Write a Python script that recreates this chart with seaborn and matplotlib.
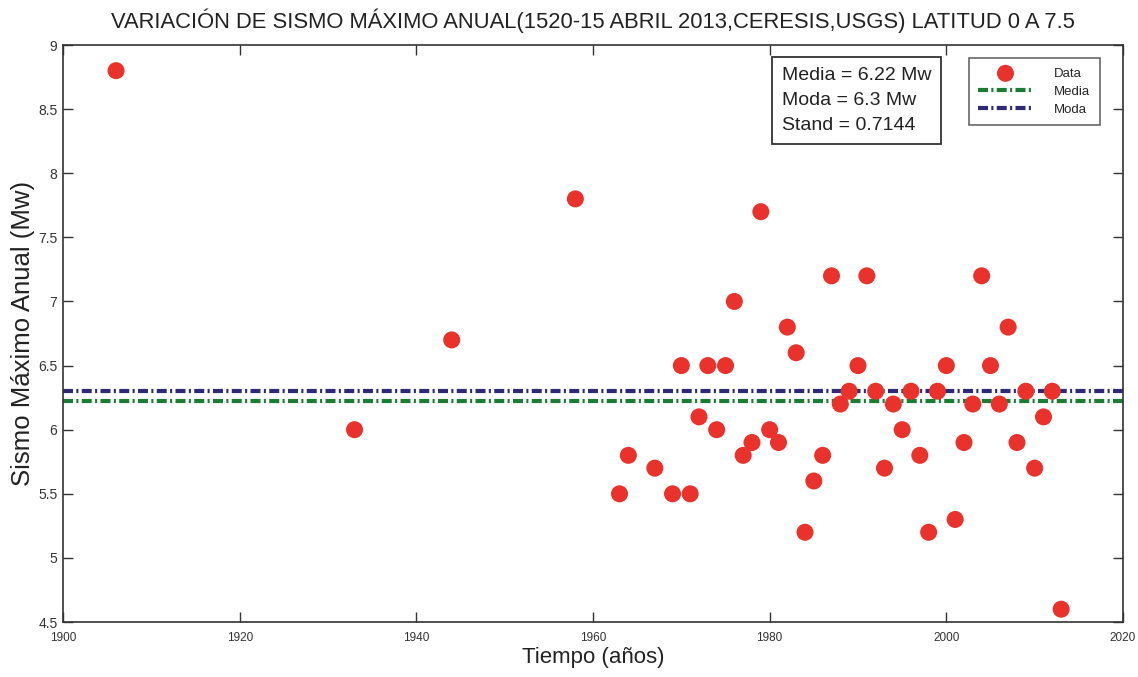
import pandas as pd
import seaborn as sns
import matplotlib
matplotlib.use('Agg')
import matplotlib.pyplot as plt

# sismo máximo anual por año
anios = [1906, 1933, 1944, 1958, 1963, 1964, 1967, 1969, 1970, 1971, 1972, 1973,
         1974, 1975, 1976, 1977, 1978, 1979, 1980, 1981, 1982, 1983, 1984, 1985,
         1986, 1987, 1988, 1989, 1990, 1991, 1992, 1993, 1994, 1995, 1996, 1997,
         1998, 1999, 2000, 2001, 2002, 2003, 2004, 2005, 2006, 2007, 2008, 2009,
         2010, 2011, 2012, 2013]
magnitud = [8.8, 6.0, 6.7, 7.8, 5.5, 5.8, 5.7, 5.5, 6.5, 5.5, 6.1, 6.5,
            6.0, 6.5, 7.0, 5.8, 5.9, 7.7, 6.0, 5.9, 6.8, 6.6, 5.2, 5.6,
            5.8, 7.2, 6.2, 6.3, 6.5, 7.2, 6.3, 5.7, 6.2, 6.0, 6.3, 5.8,
            5.2, 6.3, 6.5, 5.3, 5.9, 6.2, 7.2, 6.5, 6.2, 6.8, 5.9, 6.3,
            5.7, 6.1, 6.3, 4.6]

media = 6.22
moda = 6.3
stand = 0.7144

xticks = [1900, 1920, 1940, 1960, 1980, 2000, 2020]
yticks = [4.5, 5, 5.5, 6, 6.5, 7, 7.5, 8, 8.5, 9]

data = pd.DataFrame({'Tiempo': anios, 'Mw': magnitud})

sns.set_theme(style="white")
plt.rcParams['font.family'] = ['Liberation Sans', 'DejaVu Sans']

fig = plt.figure(figsize=(11.38, 6.77), dpi=100)
ax = fig.add_axes([0.0554, 0.0812, 0.9314, 0.8523])

dashdot = (0, (2.4, 0.8, 0.5, 0.8))
sns.scatterplot(x='Tiempo', y='Mw', data=data, ax=ax, color='#e8322b',
                s=150, edgecolor='none', label='Data', zorder=3)
ax.axhline(media, color='#1a7d33', lw=3, ls=dashdot, label='Media', zorder=2)
ax.axhline(moda, color='#2e2a78', lw=3, ls=dashdot, label='Moda', zorder=2)

ax.set_xlim(1900, 2020)
ax.set_ylim(4.5, 9)
ax.set_xticks(xticks)
ax.set_yticks(yticks)
ax.set_xticklabels([str(t) for t in xticks], fontsize=8.5, color='#333333')
ax.set_yticklabels([f'{t:g}' for t in yticks], fontsize=10, color='#333333')
ax.tick_params(direction='in', length=7, width=1, top=True, right=True,
               bottom=True, left=True, color='#333333')
ax.tick_params(axis='x', pad=7)
ax.tick_params(axis='y', pad=4)
for s in ax.spines.values():
    s.set_color('#333333')
    s.set_linewidth(1.2)

ax.set_xlabel('Tiempo (años)', fontsize=16, color='#222222', labelpad=2)
ax.set_ylabel('Sismo Máximo Anual (Mw)', fontsize=18.5, color='#222222', labelpad=2)
ax.set_title('VARIACIÓN DE SISMO MÁXIMO ANUAL(1520-15 ABRIL 2013,CERESIS,USGS) LATITUD 0 A 7.5',
             fontsize=15.8, color='#222222', pad=12)

ax.text(0.678, 0.962, f'Media = {media} Mw\nModa = {moda} Mw\nStand = {stand}',
        transform=ax.transAxes, ha='left', va='top', fontsize=14,
        linespacing=1.62, color='#222222',
        bbox=dict(boxstyle='square,pad=0.5', fc='white', ec='#333333', lw=1.3))

leg = ax.legend(loc='upper right', bbox_to_anchor=(0.978, 0.977), borderaxespad=0,
                fontsize=9.5, frameon=True, fancybox=False, edgecolor='#333333',
                handlelength=4.2, handletextpad=1.6, borderpad=0.7, labelspacing=0.45,
                markerscale=1.0)
leg.get_frame().set_linewidth(1.1)

fig.savefig('out.png', dpi=100)
